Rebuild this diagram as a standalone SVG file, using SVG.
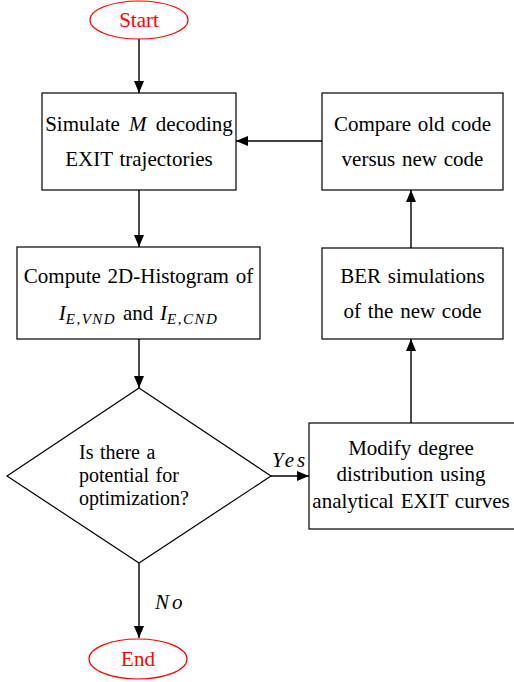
<svg xmlns="http://www.w3.org/2000/svg" width="514" height="682" viewBox="0 0 514 682">
<style>
.box{fill:#fff;stroke:#000;stroke-width:1.2}
.term{fill:#fff;stroke:#ff0000;stroke-width:1.2}
.t{font-family:"Liberation Serif","Times New Roman",serif;font-size:21px;fill:#000;word-spacing:1.5px}
.tr{font-family:"Liberation Serif","Times New Roman",serif;font-size:21px;fill:#ff0000}
.dq{font-size:20px}
.m{font-style:italic}
.lbl{font-style:italic;letter-spacing:3px}
.sub{font-style:italic;font-size:15px;letter-spacing:1.5px}
.c{text-anchor:middle}
.ln{stroke:#000;stroke-width:1.4;fill:none;marker-end:url(#ah)}
</style>
<defs>
<marker id="ah" viewBox="0 0 12 10" refX="12" refY="5" markerWidth="12" markerHeight="10" markerUnits="userSpaceOnUse" orient="auto">
<path d="M0,0 L12,5 L0,10 Z" fill="#000"/>
</marker>
</defs>
<g id="connectors">
<line class="ln" x1="139" y1="39" x2="139" y2="93"/>
<line class="ln" x1="139" y1="190" x2="139" y2="247"/>
<line class="ln" x1="139" y1="339" x2="139" y2="388"/>
<line class="ln" x1="139" y1="563" x2="139" y2="638"/>
<line class="ln" x1="271" y1="476" x2="309" y2="476"/>
<line class="ln" x1="411" y1="423" x2="411" y2="339"/>
<line class="ln" x1="411" y1="248" x2="411" y2="190"/>
<line class="ln" x1="322" y1="141" x2="236" y2="141"/>
<text class="t lbl" x="272" y="467">Yes</text>
<text class="t lbl" x="155" y="609">No</text>
</g>
<g id="start">
<ellipse class="term" cx="139" cy="20" rx="49" ry="19"/>
<text class="tr c" x="139" y="27">Start</text>
</g>
<g id="simulate">
<rect class="box" x="42" y="93" width="194" height="97"/>
<text class="t c" x="139" y="131" style="word-spacing:4px">Simulate <tspan class="m">M</tspan> decoding</text>
<text class="t c" x="139" y="166">EXIT trajectories</text>
</g>
<g id="histogram">
<rect class="box" x="17" y="247" width="243" height="92"/>
<text class="t c" x="138.5" y="283">Compute 2D-Histogram of</text>
<text class="t c" x="138.5" y="320"><tspan class="m">I</tspan><tspan class="sub" dy="4">E,VND</tspan><tspan dy="-4"> and </tspan><tspan class="m">I</tspan><tspan class="sub" dy="4">E,CND</tspan></text>
</g>
<g id="compare">
<rect class="box" x="322" y="93" width="181" height="97"/>
<text class="t c" x="412.5" y="131">Compare old code</text>
<text class="t c" x="412.5" y="166">versus new code</text>
</g>
<g id="ber">
<rect class="box" x="322" y="248" width="181" height="91"/>
<text class="t c" x="412.5" y="283">BER simulations</text>
<text class="t c" x="412.5" y="318">of the new code</text>
</g>
<g id="decision">
<polygon class="box" points="139,388 271,476 139,563 7,476"/>
<text class="t dq" x="79" y="459">Is there a</text>
<text class="t dq" x="79" y="482">potential for</text>
<text class="t dq" x="79" y="505">optimization?</text>
</g>
<g id="modify">
<rect class="box" x="309" y="423" width="210" height="106"/>
<text class="t c" x="411" y="455">Modify degree</text>
<text class="t c" x="411" y="481">distribution using</text>
<text class="t c" x="411" y="508">analytical EXIT curves</text>
</g>
<g id="end">
<ellipse class="term" cx="138" cy="659" rx="49" ry="20"/>
<text class="tr c" x="138" y="666">End</text>
</g>
</svg>
